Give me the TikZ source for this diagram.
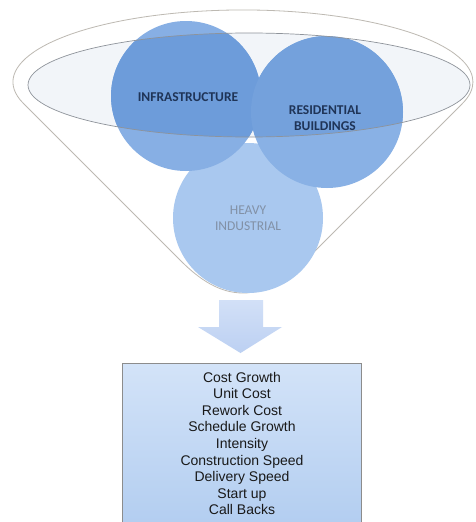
\documentclass[tikz,border=0pt]{standalone}
\usepackage{fontspec}
\setmainfont{Liberation Sans}
\newfontfamily\calib{Carlito}
\definecolor{funnelline}{HTML}{BDB9B2}
\definecolor{ellline}{HTML}{8E939A}
\definecolor{ellfill}{HTML}{F2F5F9}
\definecolor{circA}{HTML}{87AFE4}
\definecolor{circB}{HTML}{89B1E5}
\definecolor{circC}{HTML}{A9C8EF}
\definecolor{circDark}{HTML}{6D9CDA}
\definecolor{circtext}{HTML}{1F3457}
\definecolor{heavytext}{HTML}{8291A6}
\definecolor{boxline}{HTML}{8C8C8C}
\definecolor{boxtop}{HTML}{D3E3F8}
\definecolor{boxbot}{HTML}{B2CDF0}
\definecolor{arrtop}{HTML}{D2E0F7}
\definecolor{arrbot}{HTML}{BCD0F2}
\tikzset{
  funnel/.style={draw=funnelline, line width=0.8pt, fill=white},
  innerell/.style={draw=ellline, line width=0.7pt},
  bubble/.style={circle, inner sep=0pt, align=center, font=\calib\bfseries\fontsize{13.5}{16}\selectfont},
  listbox/.style={draw=boxline, line width=0.6pt, top color=boxtop, bottom color=boxbot},
}
\begin{document}
\begin{tikzpicture}[x=1pt,y=-1pt]
\clip (0,0) rectangle (475,522);
\fill[white] (0,0) rectangle (475,522);
% funnel outline
\draw[funnel] (23.5,103.5) arc[start angle=162.6, end angle=377.4, x radius=230, y radius=72]
  -- (305,261) .. controls (286,280) and (266,293) .. (243,293)
  .. controls (220,293) and (200,280) .. (181,261) -- cycle;
% inner ellipse fill
\fill[ellfill] (249,85) ellipse[x radius=221, y radius=52];
% circles
\node[bubble, fill=circC, minimum size=150pt] (heavy) at (248,218) {};
\node[bubble, fill=circA, minimum size=150pt] (infra) at (186,96) {};
\node[bubble, fill=circB, minimum size=152pt] (resid) at (327,112) {};
\begin{scope}
  \clip (249,85) ellipse[x radius=221, y radius=52];
  \fill[circDark] (infra) circle[radius=75];
  \fill[circDark!95!white] (resid) circle[radius=76];
\end{scope}
\draw[innerell] (249,85) ellipse[x radius=221, y radius=52];
% labels
\node[bubble, text=circtext] (infraT) at (188,97) {INFRASTRUCTURE};
\node[bubble, text=circtext] (residT) at (325,118) {RESIDENTIAL\\BUILDINGS};
\node[bubble, text=heavytext, font=\calib\fontsize{13.5}{16}\selectfont] (heavyT) at (248,218) {HEAVY\\INDUSTRIAL};
% arrow
\shade[top color=arrtop, bottom color=arrbot]
  (219,300) -- (263,300) -- (263,327) -- (282,327) -- (240.5,353) -- (198,327) -- (219,327) -- cycle;
% box
\node[listbox, minimum width=239pt, minimum height=165pt, anchor=north west] (box) at (122,363) {};
\node[align=center, font=\fontsize{14}{16.6}\selectfont, text=black!90] (list) at (242,443.5)
  {Cost Growth\\Unit Cost\\Rework Cost\\Schedule Growth\\Intensity\\Construction Speed\\Delivery Speed\\Start up\\Call Backs};
\end{tikzpicture}
\end{document}
